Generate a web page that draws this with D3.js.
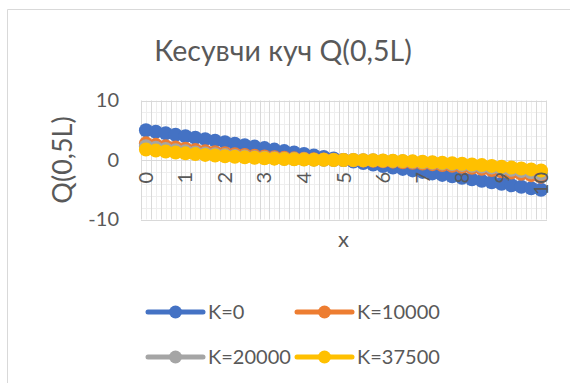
<!DOCTYPE html>
<html>
<head>
<meta charset="utf-8">
<script src="https://cdn.jsdelivr.net/npm/d3@7"></script>
<style>
  html, body { margin: 0; padding: 0; background: #fff; }
  svg { display: block; font-family: Lato, "Noto Sans", sans-serif; }
</style>
</head>
<body>
<svg id="chart" width="570" height="383"></svg>
<script>
// x positions along the beam (category axis)
const categories = [0,0.25,0.5,0.75,1,1.25,1.5,1.75,2,2.25,2.5,2.75,3,3.25,3.5,3.75,4,4.25,4.5,4.75,5,
  5.25,5.5,5.75,6,6.25,6.5,6.75,7,7.25,7.5,7.75,8,8.25,8.5,8.75,9,9.25,9.5,9.75,10];
const tickLabels = ["0","1","2","3","4","5","6","7","8","9","10"];
const yTicks = [-10, 0, 10];
const seriesNames = ["K=0", "K=10000", "K=20000", "K=37500"];

// shear force Q for each foundation stiffness K
const k0 = [5,4.75,4.5,4.25,4,3.75,3.5,3.25,3,2.75,2.5,2.25,2,1.75,1.5,1.25,1,0.75,0.5,0.25,0,
  -0.25,-0.5,-0.75,-1,-1.25,-1.5,-1.75,-2,-2.25,-2.5,-2.75,-3,-3.25,-3.5,-3.75,-4,-4.25,-4.5,-4.75,-5];
const k10000 = [2.8,2.55,2.31,2.09,1.88,1.68,1.49,1.31,1.14,0.98,0.83,0.70,0.58,0.47,0.37,0.28,0.20,0.13,0.08,0.03,0,
  -0.03,-0.08,-0.13,-0.20,-0.28,-0.37,-0.47,-0.58,-0.70,-0.83,-0.98,-1.14,-1.31,-1.49,-1.68,-1.88,-2.09,-2.31,-2.55,-2.8];
const k20000 = [2.3,2.07,1.85,1.65,1.46,1.28,1.11,0.96,0.82,0.69,0.57,0.46,0.37,0.29,0.22,0.16,0.11,0.06,0.03,0.01,0,
  -0.01,-0.03,-0.06,-0.11,-0.16,-0.22,-0.29,-0.37,-0.46,-0.57,-0.69,-0.82,-0.96,-1.11,-1.28,-1.46,-1.65,-1.85,-2.07,-2.3];
const k37500 = [1.76,1.58,1.42,1.27,1.12,0.99,0.86,0.75,0.64,0.54,0.45,0.37,0.29,0.23,0.17,0.12,0.08,0.05,0.03,0.01,0,
  -0.01,-0.03,-0.05,-0.08,-0.12,-0.17,-0.23,-0.29,-0.37,-0.45,-0.54,-0.64,-0.75,-0.86,-0.99,-1.12,-1.27,-1.42,-1.58,-1.76];

const seriesColors = ["#4472C4", "#ED7D31", "#A5A5A5", "#FFC000"];
const series = [k0, k10000, k20000, k37500].map((values, i) => ({
  name: seriesNames[i], color: seriesColors[i], values
}));

const textColor = "#595959";
const font = "Lato, 'Noto Sans', sans-serif";
const svg = d3.select("#chart");

// chart area outline
svg.append("path")
  .attr("d", "M7.5,383 V9.5 H570")
  .attr("fill", "none").attr("stroke", "#d9d9d9").attr("stroke-width", 1);

const plot = { left: 141, right: 546, top: 100.5, bottom: 219.5 };

const x = d3.scaleBand().domain(categories).range([plot.left, plot.right]).padding(0);
const y = d3.scaleLinear().domain([-10, 10]).range([plot.bottom, plot.top]);
const bw = x.bandwidth();
const cx = c => x(c) + bw / 2;

// gridlines
const grid = svg.append("g");
grid.selectAll("line.vmin").data(categories).join("line")
  .attr("x1", d => Math.round(cx(d)) + 0.5).attr("x2", d => Math.round(cx(d)) + 0.5)
  .attr("y1", plot.top).attr("y2", plot.bottom)
  .attr("stroke", "#eeeeee").attr("stroke-width", 1);
const yMinor = d3.range(-8, 10, 2).filter(v => v !== 0);
grid.selectAll("line.hmin").data(yMinor).join("line")
  .attr("x1", plot.left).attr("x2", plot.right)
  .attr("y1", d => Math.round(y(d)) + 0.5).attr("y2", d => Math.round(y(d)) + 0.5)
  .attr("stroke", "#eeeeee").attr("stroke-width", 1);
const bounds = categories.map(c => x(c)).concat([plot.right]);
grid.selectAll("line.vmaj").data(bounds).join("line")
  .attr("x1", d => Math.round(d) + 0.5).attr("x2", d => Math.round(d) + 0.5)
  .attr("y1", plot.top).attr("y2", plot.bottom)
  .attr("stroke", "#d9d9d9").attr("stroke-width", 1);
grid.selectAll("line.hmaj").data(yTicks).join("line")
  .attr("x1", plot.left).attr("x2", plot.right + 1)
  .attr("y1", d => Math.round(y(d)) + 0.5).attr("y2", d => Math.round(y(d)) + 0.5)
  .attr("stroke", "#d9d9d9").attr("stroke-width", 1);

// value axis
const yAxis = svg.append("g")
  .attr("transform", `translate(${plot.left},0)`)
  .call(d3.axisLeft(y).tickValues(yTicks).tickSize(0).tickPadding(22).tickFormat(d => String(d)));
yAxis.select(".domain").remove();
yAxis.selectAll("text")
  .attr("fill", textColor).style("font-size", "20px").style("font-family", font);

// series: line then markers, drawn in series order
const line = d3.line().x((d, i) => cx(categories[i])).y(d => y(d));
series.forEach(s => {
  const g = svg.append("g");
  g.append("path")
    .attr("d", line(s.values))
    .attr("fill", "none").attr("stroke", s.color)
    .attr("stroke-width", 4.5).attr("stroke-linejoin", "round").attr("stroke-linecap", "round");
  g.selectAll("circle").data(s.values).join("circle")
    .attr("cx", (d, i) => cx(categories[i]))
    .attr("cy", d => y(d))
    .attr("r", 7)
    .attr("fill", s.color);
});

// category axis crossing at zero, labels above the series
const labelled = categories.filter(c => tickLabels.includes(String(c)));
const xAxis = svg.append("g")
  .attr("transform", `translate(0,${y(0)})`)
  .call(d3.axisBottom(x).tickValues(labelled).tickSize(0).tickFormat(d => tickLabels[tickLabels.indexOf(String(d))]));
xAxis.select(".domain").remove();
xAxis.selectAll("text")
  .attr("fill", textColor).style("font-size", "20px").style("font-family", font)
  .attr("transform", "rotate(-90)")
  .attr("text-anchor", "end")
  .attr("x", -12).attr("y", 0).attr("dy", "0.35em");

// title
svg.append("text")
  .attr("x", 283).attr("y", 61)
  .attr("text-anchor", "middle")
  .attr("fill", textColor).style("font-size", "28.5px")
  .text("Кесувчи куч Q(0,5L)");

// axis titles
svg.append("text")
  .attr("transform", `translate(71.5,${(plot.top + plot.bottom) / 2}) rotate(-90)`)
  .attr("text-anchor", "middle")
  .attr("fill", textColor).style("font-size", "27px")
  .text("Q(0,5L)");
svg.append("text")
  .attr("x", (plot.left + plot.right) / 2).attr("y", 247)
  .attr("text-anchor", "middle")
  .attr("fill", textColor).style("font-size", "22px")
  .text("x");

// legend, two columns
const legendCols = [148, 297];
const legendRows = [312, 357];
const legend = svg.append("g");
series.forEach((s, i) => {
  const lx = legendCols[i % 2], ly = legendRows[Math.floor(i / 2)];
  const g = legend.append("g").attr("transform", `translate(${lx},${ly})`);
  g.append("line").attr("x1", 0).attr("x2", 55).attr("y1", 0).attr("y2", 0)
    .attr("stroke", s.color).attr("stroke-width", 5).attr("stroke-linecap", "round");
  g.append("circle").attr("cx", 27.5).attr("cy", 0).attr("r", 6.5).attr("fill", s.color);
  g.append("text").attr("x", 60).attr("y", 0).attr("dy", "0.35em")
    .attr("fill", textColor).style("font-size", "20px")
    .text(s.name);
});
</script>
</body>
</html>
